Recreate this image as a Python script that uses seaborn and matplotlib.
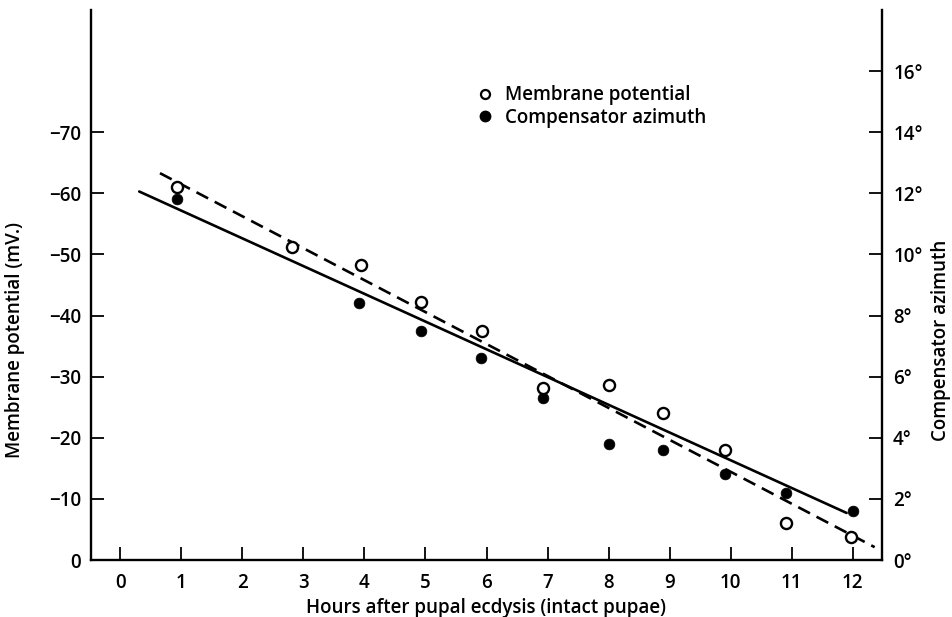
import numpy as np
import pandas as pd
import matplotlib
matplotlib.use("Agg")
import matplotlib.pyplot as plt
import seaborn as sns
from matplotlib.lines import Line2D

# ---- data ----
hours_mp = [0.93, 2.81, 3.94, 4.93, 5.92, 6.92, 8.0, 8.9, 9.9, 10.9, 11.98]
membrane_mv = [-61.1, -51.3, -48.2, -42.3, -37.4, -28.2, -28.7, -24.1, -18.0, -6.0, -3.8]

hours_ca = [0.93, 3.91, 4.93, 5.91, 6.92, 8.0, 8.9, 9.9, 10.9, 12.0]
compensator_deg = [11.8, 8.4, 7.5, 6.6, 5.3, 3.8, 3.6, 2.8, 2.2, 1.6]

fit_mp_x = [0.65, 12.36]
fit_mp_y = [-63.3, -2.1]
fit_ca_x = [0.31, 11.9]
fit_ca_y = [12.06, 1.54]

x_ticks = list(range(0, 13))
mv_ticks = [0, -10, -20, -30, -40, -50, -60, -70]
deg_ticks = [0, 2, 4, 6, 8, 10, 12, 14, 16]

sns.set_theme(style="ticks")
FONT = ["Open Sans", "DejaVu Sans"]
plt.rcParams["font.family"] = FONT
plt.rcParams["font.weight"] = "semibold"
plt.rcParams["axes.labelweight"] = "semibold"
plt.rcParams["text.color"] = "black"
plt.rcParams["axes.labelcolor"] = "black"

FS = 13.5

fig = plt.figure(figsize=(9.52, 6.17), dpi=100)
ax = fig.add_axes([91 / 952, 1 - 560 / 617, (882 - 91) / 952, (560 - 10) / 617])
ax2 = ax.twinx()

df_mp = pd.DataFrame({"hours": hours_mp, "mv": membrane_mv})
df_ca = pd.DataFrame({"hours": hours_ca, "deg": compensator_deg})
df_fmp = pd.DataFrame({"hours": fit_mp_x, "mv": fit_mp_y})
df_fca = pd.DataFrame({"hours": fit_ca_x, "deg": fit_ca_y})

# fit lines
sns.lineplot(data=df_fmp, x="hours", y="mv", ax=ax, color="black", lw=1.9,
             dashes=False, zorder=2)
ax.lines[-1].set_dashes((5.0, 2.8))
sns.lineplot(data=df_fca, x="hours", y="deg", ax=ax2, color="black", lw=1.9, zorder=2)

# points
sns.scatterplot(data=df_mp, x="hours", y="mv", ax=ax, marker="o", s=64,
                facecolor="white", edgecolor="black", linewidth=1.7, zorder=5)
sns.scatterplot(data=df_ca, x="hours", y="deg", ax=ax2, marker="o", s=60,
                color="black", edgecolor="black", linewidth=0.5, zorder=5)

ax.set_zorder(ax2.get_zorder() + 1)
ax.patch.set_visible(False)

ax.set_xlim(-0.48, 12.48)
ax.set_ylim(0, -90)
ax2.set_ylim(0, 18)

ax.set_xticks(x_ticks)
ax.set_xticklabels([str(t) for t in x_ticks])
ax.set_yticks(mv_ticks)
ax.set_yticklabels(["0" if t == 0 else "\u2212" + str(abs(t)) for t in mv_ticks])
ax2.set_yticks(deg_ticks)
ax2.set_yticklabels([f"{t}\u00b0" for t in deg_ticks])

for a in (ax, ax2):
    a.spines["top"].set_visible(False)
    for s in a.spines.values():
        s.set_linewidth(1.7)
        s.set_color("black")
ax.spines["right"].set_visible(False)
ax2.spines["left"].set_visible(False)
ax2.spines["bottom"].set_visible(False)

ax.tick_params(axis="both", direction="in", length=9.5, width=1.3, labelsize=FS,
               colors="black", pad=7)
ax.tick_params(axis="x", pad=9)
ax2.tick_params(axis="y", direction="in", length=9.5, width=1.3, labelsize=FS,
                colors="black", pad=8)

ax.set_xlabel("Hours after pupal ecdysis (intact pupae)", fontsize=FS, color="black",
              labelpad=4)
ax.set_ylabel("Membrane potential (mV.)", fontsize=FS, color="black")
ax.yaxis.set_label_coords(-0.083, 0.40)
ax2.set_ylabel("Compensator azimuth", fontsize=FS, color="black", rotation=90)
ax2.yaxis.set_label_coords(1.062, 0.40)

handles = [
    Line2D([], [], marker="o", linestyle="none", markerfacecolor="white",
           markeredgecolor="black", markeredgewidth=1.6, markersize=6.5),
    Line2D([], [], marker="o", linestyle="none", markerfacecolor="black",
           markeredgecolor="black", markersize=7.5),
]
leg = ax.legend(handles, ["Membrane potential", "Compensator azimuth"],
                loc="upper left", bbox_to_anchor=(0.486, 0.863), frameon=False,
                fontsize=FS, handlelength=1.0, handletextpad=0.6,
                labelspacing=0.12, borderpad=0, borderaxespad=0)
for t in leg.get_texts():
    t.set_color("black")

fig.savefig("out.png", dpi=100)
